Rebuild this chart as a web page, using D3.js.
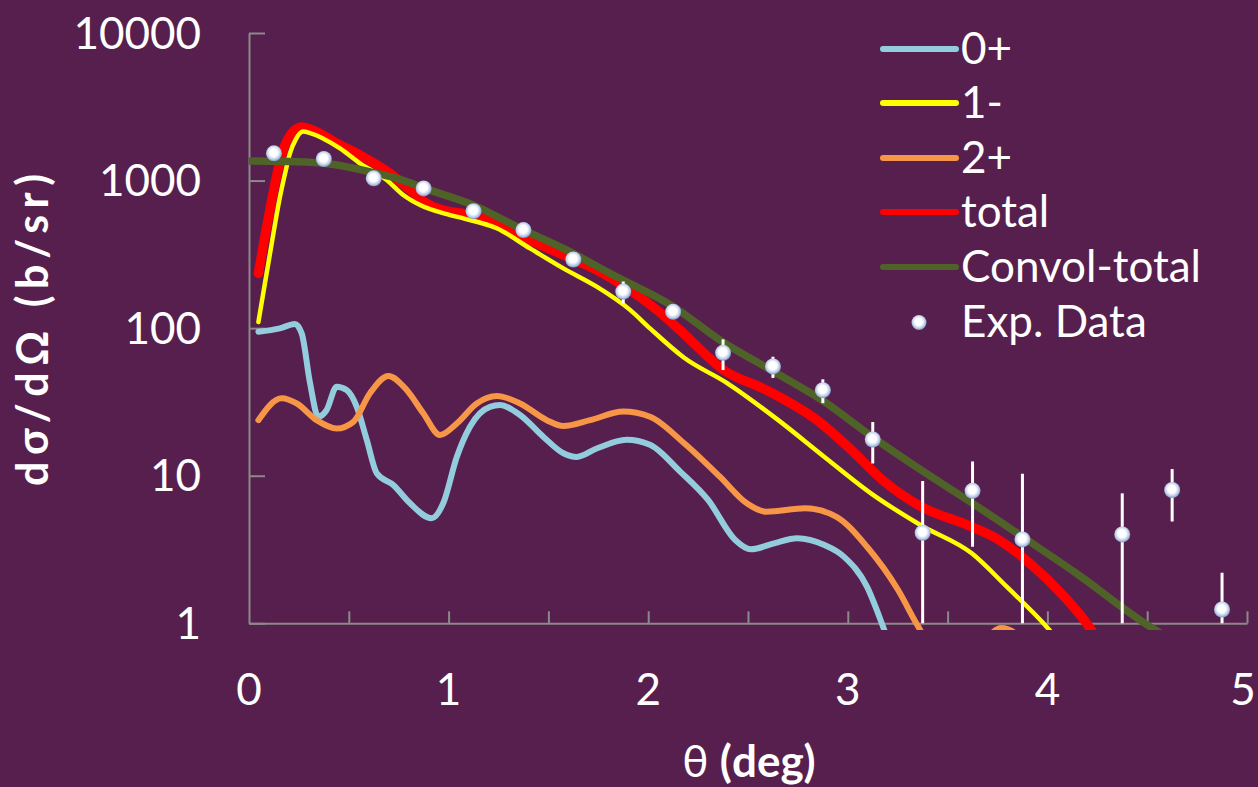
<!DOCTYPE html>
<html>
<head>
<meta charset="utf-8">
<script src="https://cdn.jsdelivr.net/npm/d3@7"></script>
<style>
  html, body { margin: 0; padding: 0; background: #571F4D; }
  svg { display: block; }
  text { font-family: Lato, "Open Sans", "DejaVu Sans", sans-serif; fill: #ffffff; }
</style>
</head>
<body>
<svg id="chart" width="1258" height="787"></svg>
<script>
// ---- Angular distributions, dσ/dΩ (b/sr) versus θ (deg) ----

// 0+ component
const theta0p = [0.047, 0.155, 0.23, 0.264, 0.306, 0.347, 0.389, 0.439, 0.489, 0.54, 0.59, 0.64, 0.723, 0.807, 0.915, 0.973, 1.041, 1.107, 1.207, 1.257, 1.358, 1.474, 1.575, 1.642, 1.742, 1.892, 2.009, 2.159, 2.3, 2.436, 2.514, 2.63, 2.747, 2.883, 2.98, 3.096, 3.174, 3.25];
const sigma0p = [94.6, 99.7, 106.6, 92.2, 42.3, 25.1, 27.9, 40.1, 38.1, 29.3, 17.5, 10.4, 8.65, 6.5, 5.15, 6.5, 13.4, 21.5, 29.3, 30.1, 25.8, 18.4, 14.2, 13.4, 15.3, 17.5, 16.2, 10.7, 6.85, 3.67, 3.17, 3.48, 3.77, 3.39, 2.83, 1.77, 0.97, 0.5];

// 1- component
const theta1m = [0.047, 0.080, 0.115, 0.152, 0.180, 0.205, 0.235, 0.271, 0.306, 0.456, 0.556, 0.690, 0.773, 0.857, 1.007, 1.074, 1.241, 1.408, 1.575, 1.742, 1.909, 2.009, 2.18, 2.397, 2.65, 2.883, 3.116, 3.368, 3.621, 3.796, 3.989, 4.06];
const sigma1m = [110, 202, 383, 738, 1107, 1528, 1911, 2147, 2099, 1652, 1309, 1008, 798, 682, 584, 554, 475, 347, 254, 191, 133, 99.7, 63, 42.3, 23.9, 13.4, 7.6, 4.6, 2.98, 1.77, 0.97, 0.75];

// 2+ component
const theta2p = [0.047, 0.164, 0.239, 0.339, 0.439, 0.523, 0.606, 0.698, 0.79, 0.873, 0.957, 1.041, 1.141, 1.241, 1.358, 1.492, 1.575, 1.709, 1.875, 2.009, 2.18, 2.359, 2.494, 2.592, 2.786, 2.941, 3.096, 3.252, 3.349, 3.45, 3.58, 3.77, 3.9, 4.0];
const sigma2p = [23.8, 33.5, 30.9, 23.8, 20.9, 23.2, 36.2, 47.4, 38.1, 26.5, 18.9, 22.6, 30.9, 34.7, 30.9, 23.8, 21.7, 23.8, 27.2, 25.1, 16.6, 9.85, 6.5, 5.7, 6.01, 5.28, 3.3, 1.68, 0.97, 0.6, 0.55, 0.93, 0.7, 0.4];

// total
const thetaTot = [0.047, 0.080, 0.114, 0.145, 0.180, 0.215, 0.264, 0.306, 0.456, 0.556, 0.706, 0.807, 0.890, 1.007, 1.074, 1.241, 1.408, 1.575, 1.742, 1.909, 2.043, 2.159, 2.378, 2.592, 2.844, 3.019, 3.174, 3.368, 3.621, 3.757, 3.912, 4.068, 4.203, 4.27];
const sigmaTot = [235, 421, 738, 1178, 1740, 2099, 2305, 2233, 1740, 1489, 1119, 862, 701, 615, 600, 513, 395, 313, 248, 181, 133, 97, 52, 38.1, 23.9, 14.9, 9.35, 6.17, 4.51, 3.67, 2.55, 1.6, 0.97, 0.7];

// total folded with the angular resolution
const thetaConv = [0.005, 0.239, 0.406, 0.606, 0.740, 0.907, 1.124, 1.358, 1.575, 1.825, 2.126, 2.359, 2.630, 2.869, 3.121, 3.368, 3.625, 3.875, 4.145, 4.514, 4.56];
const sigmaConv = [1356, 1341, 1294, 1147, 1035, 862, 682, 475, 347, 229, 140, 83, 50.7, 32.6, 18.4, 10.9, 6.5, 3.86, 2.18, 0.95, 0.87];

// measured points with errors
const thetaExp = [0.125, 0.375, 0.625, 0.875, 1.125, 1.375, 1.625, 1.875, 2.125, 2.375, 2.625, 2.875, 3.125, 3.375, 3.625, 3.875, 4.375, 4.625, 4.875];
const sigmaExp = [1530, 1400, 1035, 885, 620, 462, 292, 177, 129, 68, 55, 38, 17.6, 4.1, 7.9, 3.7, 4.0, 8.0, 1.24];
const errorExp = [60, 50, 40, 30, 25, 20, 15, 30, 10, 16, 9, 7, 5.5, 5.1, 4.6, 6.6, 3.6, 3.1, 0.96];

// axis ticks
const xTickValues = [0.5, 1, 1.5, 2, 2.5, 3, 3.5, 4, 4.5, 5];
const xTickLabels = [0, 1, 2, 3, 4, 5];
const yTickValues = [1, 10, 100, 1000, 10000];

const seriesNames = ["0+", "1-", "2+", "total", "Convol-total"];
const seriesColors = ["#93CDDD", "#FFFF00", "#F79646", "#FF0000", "#4F6228"];

// ---- layout ----
const svg = d3.select("#chart");
const x = d3.scaleLinear().domain([0, 5]).range([249, 1247]);
const y = d3.scaleLog().domain([1, 10000]).range([623.3, 33]);

const defs = svg.append("defs");
defs.append("clipPath").attr("id", "curveClip")
  .append("rect").attr("x", 249).attr("y", 20).attr("width", 1000).attr("height", 610);
defs.append("clipPath").attr("id", "barClip")
  .append("rect").attr("x", 249).attr("y", 20).attr("width", 1000).attr("height", 603.3);
const grad = defs.append("radialGradient").attr("id", "dotFill")
  .attr("cx", "48%").attr("cy", "45%").attr("r", "55%");
grad.append("stop").attr("offset", "0%").attr("stop-color", "#ffffff");
grad.append("stop").attr("offset", "45%").attr("stop-color", "#ffffff");
grad.append("stop").attr("offset", "75%").attr("stop-color", "#C3D1EA");
grad.append("stop").attr("offset", "100%").attr("stop-color", "#7D98C6");

// axes
const axisColor = "#8A8A8A";
const gx = svg.append("g").attr("transform", `translate(0,${y(1)})`)
  .call(d3.axisBottom(x).tickValues(xTickValues).tickSizeInner(-12).tickSizeOuter(0).tickFormat(""));
const gy = svg.append("g").attr("transform", `translate(${x(0)},0)`)
  .call(d3.axisLeft(y).tickValues(yTickValues).tickSizeInner(-16).tickSizeOuter(0).tickFormat(""));
[gx, gy].forEach(g => {
  g.selectAll("path, line").attr("stroke", axisColor).attr("stroke-width", 2);
});

svg.append("g").selectAll("text").data(xTickLabels).join("text")
  .attr("x", d => Math.min(x(d), 1243)).attr("y", 705)
  .attr("text-anchor", "middle").attr("font-size", 44)
  .text(d => d);

svg.append("g").selectAll("text").data(yTickValues).join("text")
  .attr("x", 201).attr("y", d => y(d) + 15.5)
  .attr("text-anchor", "end").attr("font-size", 44)
  .text(d => d);

// axis titles
svg.append("text")
  .attr("transform", "translate(48,330) rotate(-90)")
  .attr("text-anchor", "middle").attr("font-size", 43).attr("font-weight", "bold")
  .attr("textLength", 312).attr("lengthAdjust", "spacing")
  .text("dσ/dΩ (b/sr)");

const xt = svg.append("text").attr("x", 749).attr("y", 777)
  .attr("text-anchor", "middle").attr("font-size", 44);
xt.append("tspan").text("θ ");
xt.append("tspan").attr("font-weight", "bold").text("(deg)");

// curves
const line = d3.line()
  .x(d => x(d[0])).y(d => y(d[1]))
  .curve(d3.curveMonotoneX);

const curves = [
  { t: theta0p, s: sigma0p, color: seriesColors[0], w: 6 },
  { t: theta2p, s: sigma2p, color: seriesColors[2], w: 6 },
  { t: thetaTot, s: sigmaTot, color: seriesColors[3], w: 9.5 },
  { t: theta1m, s: sigma1m, color: seriesColors[1], w: 4.5 },
  { t: thetaConv, s: sigmaConv, color: seriesColors[4], w: 7.5 }
];

const gc = svg.append("g").attr("clip-path", "url(#curveClip)");
curves.forEach(c => {
  gc.append("path")
    .datum(d3.zip(c.t, c.s))
    .attr("fill", "none")
    .attr("stroke", c.color)
    .attr("stroke-width", c.w)
    .attr("stroke-linejoin", "round")
    .attr("stroke-linecap", "round")
    .attr("d", line);
});

// measured points
const expData = d3.zip(thetaExp, sigmaExp, errorExp);
svg.append("g").attr("clip-path", "url(#barClip)")
  .selectAll("line").data(expData).join("line")
  .attr("x1", d => x(d[0])).attr("x2", d => x(d[0]))
  .attr("y1", d => y(d[1] + d[2]))
  .attr("y2", d => (d[1] - d[2] > 0.01 ? y(d[1] - d[2]) : y(0.01)))
  .attr("stroke", "#ffffff").attr("stroke-width", 3);

svg.append("g").selectAll("circle").data(expData).join("circle")
  .attr("cx", d => x(d[0])).attr("cy", d => y(d[1]))
  .attr("r", 8)
  .attr("fill", "url(#dotFill)");

// legend
const legend = svg.append("g");
const rowY = [49, 103, 158, 212, 267];
seriesNames.forEach((name, i) => {
  legend.append("line")
    .attr("x1", 883).attr("x2", 956).attr("y1", rowY[i]).attr("y2", rowY[i])
    .attr("stroke", seriesColors[i]).attr("stroke-width", 6).attr("stroke-linecap", "round");
  legend.append("text").attr("x", 961).attr("y", rowY[i] + 15)
    .attr("font-size", 44).text(name);
});
legend.append("circle").attr("cx", 919).attr("cy", 322.5).attr("r", 7.5).attr("fill", "url(#dotFill)");
legend.append("text").attr("x", 961).attr("y", 337).attr("font-size", 44).text("Exp. Data");
</script>
</body>
</html>
